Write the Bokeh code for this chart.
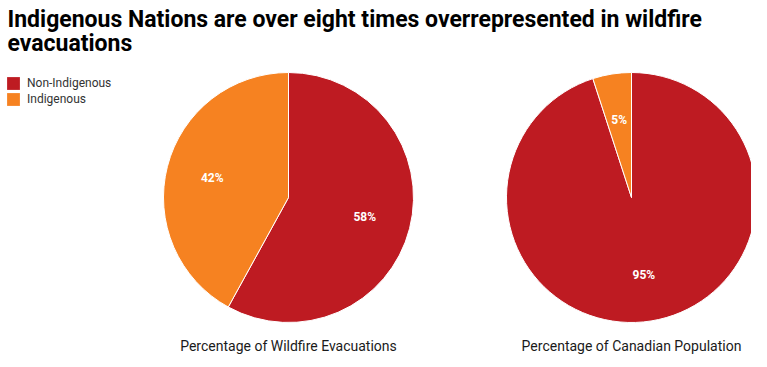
import numpy as np
from bokeh.plotting import figure
from bokeh.models import ColumnDataSource, Range1d, Legend, LegendItem
from bokeh.core.properties import value
from bokeh.embed import file_html
from bokeh.resources import INLINE

# ---- data ----
categories = ["Non-Indigenous", "Indigenous"]
evacuations = [58, 42]          # Percentage of Wildfire Evacuations
population = [95, 5]            # Percentage of Canadian Population
pie_titles = ["Percentage of Wildfire Evacuations", "Percentage of Canadian Population"]
colors = ["#be1b22", "#f68221"]
title_lines = ["Indigenous Nations are over eight times overrepresented in wildfire",
               "evacuations"]

FONT = "Roboto"
W, H = 751, 359
# data coords: x = page x, y = 367 - page y
p = figure(width=W, height=H, x_range=Range1d(0, W), y_range=Range1d(367 - H, 367),
           toolbar_location=None, output_backend="svg", min_border=0)
p.axis.visible = False
p.grid.visible = False
p.outline_line_color = None
p.background_fill_color = "white"

R = 125
centers = [(288, 170), (631, 170)]
series = [evacuations, population]

xs, ys, starts, ends, cols, cats = [], [], [], [], [], []
lx, ly, ltxt = [], [], []
for (cx, cy), vals in zip(centers, series):
    total = float(sum(vals))
    ang = np.pi / 2
    for v, c, cat in zip(vals, colors, categories):
        sweep = 2 * np.pi * v / total
        a0, a1 = ang - sweep, ang
        xs.append(cx); ys.append(cy)
        starts.append(a0); ends.append(a1)
        cols.append(c); cats.append(cat)
        mid = (a0 + a1) / 2
        lx.append(cx + 0.63 * R * np.cos(mid))
        ly.append(cy + 0.63 * R * np.sin(mid))
        ltxt.append(f"{v}%")
        ang = a0

src = ColumnDataSource(dict(x=xs, y=ys, start=starts, end=ends, color=cols, cat=cats))
wr = p.wedge(x="x", y="y", radius=R, start_angle="start", end_angle="end",
             fill_color="color", line_color="white", line_width=1, source=src)

p.text(x=lx, y=ly, text=ltxt, text_color="white", text_font=value(FONT),
       text_font_size="12px", text_font_style="bold", text_align="center",
       text_baseline="middle")

# pie subtitles
p.text(x=[c[0] for c in centers], y=[22, 22], text=pie_titles, text_color="#1a1a1a",
       text_font=value(FONT), text_font_size="14px", text_align="center",
       text_baseline="alphabetic")

# chart title
p.text(x=[7, 7], y=[348, 324], text=title_lines, text_color="#000000",
       text_font=value(FONT), text_font_size="23px", text_font_style="bold",
       text_align="left", text_baseline="alphabetic")

# legend swatches (off-canvas proxies without outline, so they show at full size)
swatches = [p.rect(x=[-500], y=[-500], width=1, height=1, fill_color=c, line_color=None)
            for c in colors]
legend = Legend(items=[LegendItem(label=cat, renderers=[r])
                       for cat, r in zip(categories, swatches)],
                location=(5, H - 75 - 32), orientation="vertical",
                glyph_width=16, glyph_height=16, label_height=16, label_standoff=6,
                spacing=0, padding=0, margin=0, border_line_color=None,
                background_fill_alpha=0, label_text_font=FONT,
                label_text_font_size="12px", label_text_color="#333333")
p.add_layout(legend, "center")

open("out.html", "w").write(file_html(p, INLINE))
